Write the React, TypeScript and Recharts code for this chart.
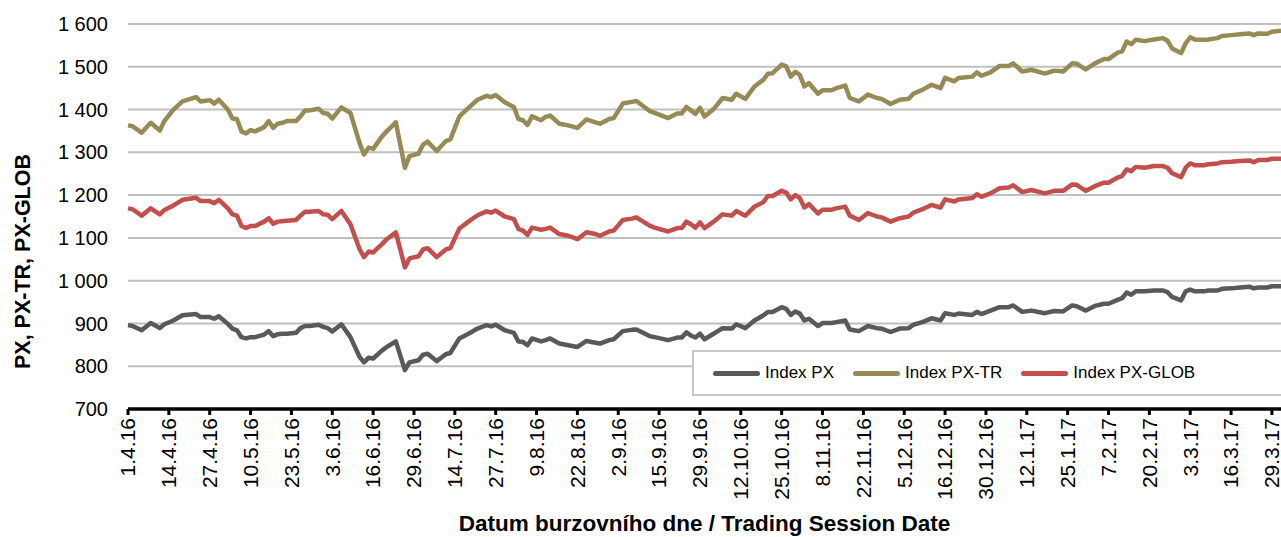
import { LineChart, Line, XAxis, YAxis, CartesianGrid, Legend } from 'recharts';

// tick labels, one every 9 trading sessions
const tickLabels = [
  '1.4.16', '14.4.16', '27.4.16', '10.5.16', '23.5.16', '3.6.16', '16.6.16', '29.6.16', '14.7.16', '27.7.16',
  '9.8.16', '22.8.16', '2.9.16', '15.9.16', '29.9.16', '12.10.16', '25.10.16', '8.11.16', '22.11.16', '5.12.16',
  '16.12.16', '30.12.16', '12.1.17', '25.1.17', '7.2.17', '20.2.17', '3.3.17', '16.3.17', '29.3.17',
];
const yTicks = [700, 800, 900, 1000, 1100, 1200, 1300, 1400, 1500, 1600];
const seriesNames = ['Index PX', 'Index PX-TR', 'Index PX-GLOB'];

// trading session number (0 = 1.4.16)
const days = [
  0, 1, 3, 5, 7, 8, 10, 12, 15, 16, 18, 19, 20, 22, 23, 24, 25, 26, 27, 28, 30, 31, 32, 33, 34, 35, 37, 38, 39, 40, 42, 43, 44, 45, 47,
  49, 51, 52, 53, 54, 56, 57, 59, 61, 62, 64, 65, 66, 68, 70, 71, 73, 75, 77, 79, 80, 81, 83, 85, 86, 87, 88, 89, 91,
  92, 93, 95, 97, 99, 101, 103, 104, 106, 107, 109, 111, 112, 115, 116, 119, 121, 122, 123, 124, 125, 126, 127, 129, 131, 133, 134, 136, 138,
  140, 141, 142, 144, 145, 146, 147, 148, 149, 150, 152, 153, 155, 156, 158, 159, 161, 163, 165, 166, 168, 170, 172, 173, 175, 177, 179, 180, 182, 183,
  186, 187, 188, 190, 192, 194, 195, 197, 199, 202, 204, 206, 208, 209, 211, 213, 215, 216, 218, 219,
  220, 221, 222, 224, 226, 228, 229, 230, 232, 233, 234, 235, 237, 238, 240, 241, 243, 245, 247, 248, 249, 251, 252, 254,
];

const pxTr = [
  1363, 1361, 1346, 1369, 1351, 1373, 1400, 1419, 1429, 1419, 1422, 1414, 1423, 1400, 1379, 1378, 1349, 1344, 1352, 1349, 1359, 1373, 1357, 1367, 1369, 1373, 1373, 1384, 1398, 1398, 1402, 1392, 1390, 1379, 1405,
  1392, 1322, 1295, 1311, 1308, 1338, 1349, 1370, 1264, 1291, 1297, 1318, 1325, 1303, 1326, 1330, 1384, 1404, 1423, 1432, 1429, 1434, 1417, 1406, 1378, 1375, 1364, 1384, 1375,
  1383, 1386, 1367, 1363, 1357, 1377, 1370, 1367, 1378, 1380, 1414, 1418, 1420, 1396, 1392, 1380, 1391, 1391, 1406, 1398, 1390, 1404, 1384, 1401, 1427, 1423, 1437, 1425, 1454,
  1470, 1484, 1485, 1505, 1501, 1477, 1488, 1481, 1454, 1462, 1437, 1445, 1445, 1450, 1456, 1427, 1419, 1435, 1427, 1425, 1413, 1423, 1425, 1437, 1446, 1458, 1450, 1474, 1466, 1474,
  1477, 1487, 1479, 1487, 1502, 1502, 1508, 1489, 1493, 1484, 1491, 1489, 1508, 1507, 1494, 1508, 1518, 1518, 1533, 1536,
  1559, 1553, 1563, 1560, 1564, 1567, 1561, 1543, 1532, 1555, 1569, 1564, 1563, 1564, 1567, 1572, 1574, 1576, 1578, 1574, 1578, 1577, 1582, 1584,
];

const pxGlob = [
  1169, 1167, 1152, 1169, 1155, 1165, 1176, 1189, 1194, 1186, 1186, 1181, 1189, 1169, 1155, 1152, 1128, 1123, 1128, 1128, 1138, 1146, 1133, 1138, 1139, 1140, 1142, 1152, 1161, 1161, 1163, 1155, 1154, 1144, 1163,
  1132, 1074, 1055, 1068, 1066, 1086, 1097, 1113, 1031, 1052, 1057, 1073, 1076, 1055, 1073, 1076, 1122, 1138, 1153, 1162, 1159, 1164, 1150, 1144, 1121, 1117, 1107, 1124, 1119,
  1121, 1124, 1109, 1105, 1097, 1113, 1109, 1105, 1115, 1117, 1142, 1145, 1148, 1128, 1124, 1115, 1123, 1123, 1138, 1132, 1124, 1136, 1123, 1138, 1155, 1152, 1163, 1152, 1173,
  1184, 1198, 1198, 1210, 1206, 1190, 1200, 1193, 1171, 1179, 1157, 1166, 1166, 1169, 1173, 1152, 1142, 1158, 1150, 1148, 1138, 1146, 1150, 1159, 1167, 1177, 1171, 1190, 1185, 1190,
  1193, 1202, 1196, 1204, 1216, 1218, 1223, 1207, 1212, 1204, 1210, 1210, 1225, 1224, 1210, 1221, 1229, 1229, 1241, 1245,
  1260, 1256, 1266, 1264, 1268, 1268, 1264, 1251, 1242, 1264, 1274, 1270, 1270, 1272, 1274, 1277, 1278, 1280, 1281, 1277, 1282, 1282, 1285, 1285,
];

const px = [
  896, 894, 884, 901, 889, 898, 907, 919, 922, 915, 915, 911, 917, 899, 888, 884, 868, 865, 868, 868, 874, 882, 870, 875, 876, 876, 878, 889, 894, 894, 897, 892, 889, 881, 898,
  868, 822, 809, 820, 818, 837, 845, 858, 791, 809, 814, 827, 829, 812, 828, 831, 865, 876, 888, 896, 893, 897, 884, 878, 858, 857, 849, 865, 858,
  861, 865, 853, 849, 845, 859, 855, 853, 861, 863, 882, 885, 886, 870, 868, 861, 867, 867, 879, 872, 867, 876, 863, 876, 889, 888, 898, 889, 907,
  919, 927, 927, 938, 934, 920, 928, 923, 907, 911, 894, 901, 901, 903, 907, 886, 882, 894, 889, 888, 880, 888, 889, 897, 903, 912, 907, 924, 920, 923,
  920, 927, 922, 930, 938, 938, 942, 927, 930, 924, 929, 928, 942, 940, 930, 941, 946, 946, 955, 959,
  972, 967, 975, 975, 977, 977, 973, 962, 954, 975, 979, 975, 975, 977, 977, 981, 982, 984, 986, 982, 984, 984, 987, 987,
];

const data = days.map((d, k) => ({ d, px: px[k], tr: pxTr[k], glob: pxGlob[k] }));
const tickDays = tickLabels.map((_, k) => k * 9);

const FONT = "'Liberation Sans', Arial, sans-serif";

const fmtY = (v: number) => (v >= 1000 ? `${Math.floor(v / 1000)} ${String(v % 1000).padStart(3, '0')}` : String(v));

function DateTick({ x, y, payload }: any) {
  const label = tickLabels[tickDays.indexOf(payload.value)];
  return (
    <text x={x} y={y} transform={`rotate(-90 ${x} ${y})`} textAnchor="end" dy="0.35em" fontSize={21} fill="#000" fontFamily={FONT}>
      {label}
    </text>
  );
}

function YTitle({ viewBox }: any) {
  const x = viewBox.x + 15;
  const y = viewBox.y + viewBox.height / 2 + 45;
  return (
    <text x={x} y={y} transform={`rotate(-90 ${x} ${y})`} textAnchor="middle" dominantBaseline="central" fontSize={21.5} fontWeight="bold" fill="#000" fontFamily={FONT}>
      PX, PX-TR, PX-GLOB
    </text>
  );
}

function LegendBox({ payload }: any) {
  const items = [...(payload || [])].sort((a: any, b: any) => seriesNames.indexOf(a.value) - seriesNames.indexOf(b.value));
  return (
    <div style={{ height: 46, border: '2px solid #c8c8c8', background: '#fff', boxSizing: 'border-box', display: 'flex', alignItems: 'center', paddingLeft: 19, fontFamily: FONT }}>
      {items.map((item: any) => (
        <div key={item.value} style={{ display: 'flex', alignItems: 'center', marginRight: 19 }}>
          <span style={{ display: 'inline-block', width: 47, height: 5, borderRadius: 3, background: item.color, marginRight: 5 }} />
          <span style={{ fontSize: 17, color: '#000' }}>{item.value}</span>
        </div>
      ))}
    </div>
  );
}

export default function App() {
  return (
    <div style={{ position: 'absolute', left: 8, top: 8, width: 1273, height: 529, overflow: 'hidden', fontFamily: FONT, background: '#fff' }}>
      <LineChart width={1273} height={529} data={data} margin={{ top: 16, right: 0, bottom: 0, left: 0 }}>
        <CartesianGrid vertical={false} stroke="#c0c0c0" strokeWidth={2} />
        <XAxis
          dataKey="d"
          type="number"
          domain={[0, 254]}
          ticks={tickDays}
          interval={0}
          height={128}
          tick={<DateTick />}
          tickSize={6}
          tickMargin={3}
          axisLine={{ stroke: '#000', strokeWidth: 3.5 }}
          tickLine={{ stroke: '#000', strokeWidth: 3 }}
          label={{ value: 'Datum burzovního dne / Trading Session Date', position: 'insideBottom', offset: 6, fontSize: 22.5, fontWeight: 'bold', fill: '#000' }}
        />
        <YAxis
          domain={[700, 1600]}
          ticks={yTicks}
          width={120}
          axisLine={false}
          tickLine={false}
          tickSize={6}
          tickMargin={14}
          tickFormatter={fmtY}
          tick={{ fill: '#000', fontSize: 20 }}
          label={YTitle}
        />
        <Legend verticalAlign="middle" align="center" layout="horizontal" wrapperStyle={{ left: 684, top: 342, width: 640 }} content={LegendBox} />
        <Line dataKey="px" name={seriesNames[0]} stroke="#595959" strokeWidth={4.5} dot={false} strokeLinejoin="round" isAnimationActive={false} />
        <Line dataKey="tr" name={seriesNames[1]} stroke="#968B55" strokeWidth={4.5} dot={false} strokeLinejoin="round" isAnimationActive={false} />
        <Line dataKey="glob" name={seriesNames[2]} stroke="#C24F4C" strokeWidth={4.5} dot={false} strokeLinejoin="round" isAnimationActive={false} />
      </LineChart>
    </div>
  );
}
